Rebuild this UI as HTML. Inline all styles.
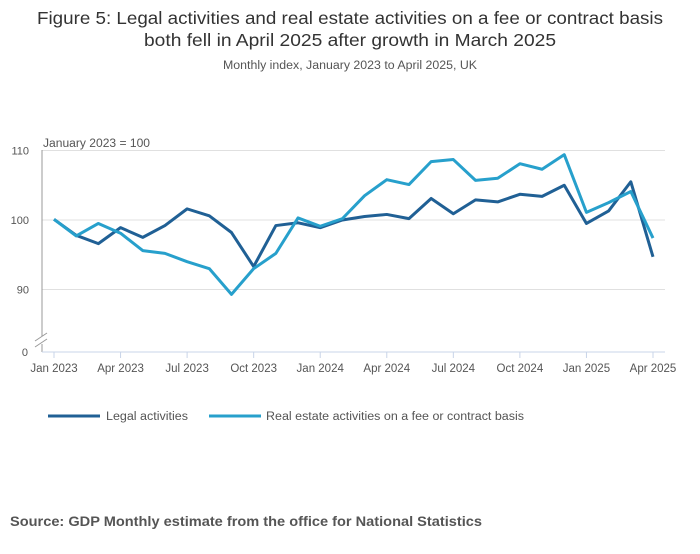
<!DOCTYPE html>
<html><head><meta charset="utf-8"><style>
body{margin:0;background:#fff;font-family:"Liberation Sans",sans-serif;}
svg text{font-family:"Liberation Sans",sans-serif;}
</style></head><body>
<svg width="700" height="549" xmlns="http://www.w3.org/2000/svg">
<text x="350" y="24" text-anchor="middle" font-size="17.5" fill="#333" textLength="626" lengthAdjust="spacingAndGlyphs">Figure 5: Legal activities and real estate activities on a fee or contract basis</text>
<text x="350" y="46" text-anchor="middle" font-size="17.5" fill="#333" textLength="412" lengthAdjust="spacingAndGlyphs">both fell in April 2025 after growth in March 2025</text>
<text x="350" y="69" text-anchor="middle" font-size="11.5" fill="#555" textLength="254" lengthAdjust="spacingAndGlyphs">Monthly index, January 2023 to April 2025, UK</text>
<text x="43" y="147" font-size="11.5" fill="#555" textLength="107" lengthAdjust="spacingAndGlyphs">January 2023 = 100</text>
<g id="grid"></g>
<line x1="42" y1="150" x2="42" y2="352" stroke="#999" stroke-width="1"/>
<rect x="34" y="336" width="14" height="8" fill="#fff"/>
<line x1="35" y1="341" x2="47" y2="333" stroke="#999"/>
<line x1="35" y1="347" x2="47" y2="339" stroke="#999"/>
<line x1="42" y1="352" x2="665" y2="352" stroke="#c8d4e8" stroke-width="1"/>
<g id="xaxis"></g>
<g id="series"></g>
<line x1="48" y1="416" x2="100" y2="416" stroke="#206095" stroke-width="3"/>
<text x="106" y="420" font-size="11.5" fill="#555" textLength="82" lengthAdjust="spacingAndGlyphs">Legal activities</text>
<line x1="209" y1="416" x2="261" y2="416" stroke="#27a0cc" stroke-width="3"/>
<text x="266" y="420" font-size="11.5" fill="#555" textLength="258" lengthAdjust="spacingAndGlyphs">Real estate activities on a fee or contract basis</text>
<text x="10" y="526" font-size="13.5" font-weight="bold" fill="#555" textLength="472" lengthAdjust="spacingAndGlyphs">Source: GDP Monthly estimate from the office for National Statistics</text>
</svg>
<script>
const months=["Jan 2023","Feb 2023","Mar 2023","Apr 2023","May 2023","Jun 2023","Jul 2023","Aug 2023","Sep 2023","Oct 2023","Nov 2023","Dec 2023","Jan 2024","Feb 2024","Mar 2024","Apr 2024","May 2024","Jun 2024","Jul 2024","Aug 2024","Sep 2024","Oct 2024","Nov 2024","Dec 2024","Jan 2025","Feb 2025","Mar 2025","Apr 2025"];
const legal=[100.1,97.8,96.6,98.9,97.5,99.2,101.6,100.6,98.2,93.3,99.2,99.6,98.9,100,100.5,100.8,100.2,103.1,100.9,102.9,102.6,103.7,103.4,105.0,99.5,101.3,105.5,94.7];
const realEstate=[100.1,97.7,99.5,98.1,95.6,95.2,94.0,93.0,89.3,93.0,95.2,100.3,99.1,100.2,103.5,105.8,105.1,108.4,108.7,105.7,106.0,108.1,107.3,109.4,101.1,102.5,104.1,97.4];
const yTicks=[110,100,90];
const xTickIdx=[0,3,6,9,12,15,18,21,24,27];
const NS="http://www.w3.org/2000/svg";
function xs(i){return 54+i*(653-54)/27;}
function ys(v){return 220-(v-100)*6.95;}
const grid=document.getElementById('grid');
yTicks.forEach(t=>{
 const l=document.createElementNS(NS,'line');
 l.setAttribute('x1',42);l.setAttribute('x2',665);l.setAttribute('y1',ys(t));l.setAttribute('y2',ys(t));
 l.setAttribute('stroke','#e0e0e0');
 
 
 grid.appendChild(l);
 const tx=document.createElementNS(NS,'text');
 tx.setAttribute('x',29);tx.setAttribute('y',ys(t)+4);tx.setAttribute('text-anchor','end');
 tx.setAttribute('font-size','11');tx.setAttribute('fill','#555');tx.textContent=t;
 
 
 grid.appendChild(tx);
});
const z=document.createElementNS(NS,'text');
z.setAttribute('x',28);z.setAttribute('y',356);z.setAttribute('text-anchor','end');z.setAttribute('font-size','11');z.setAttribute('fill','#555');z.textContent='0';


grid.appendChild(z);
const xa=document.getElementById('xaxis');
xTickIdx.forEach(i=>{
 const l=document.createElementNS(NS,'line');
 l.setAttribute('x1',xs(i));l.setAttribute('x2',xs(i));l.setAttribute('y1',352);l.setAttribute('y2',358);l.setAttribute('stroke','#c8d4e8');
 
 
 xa.appendChild(l);
 const t=document.createElementNS(NS,'text');
 t.setAttribute('x',xs(i));t.setAttribute('y',372);t.setAttribute('text-anchor','middle');t.setAttribute('font-size','11.5');t.setAttribute('fill','#555');
 t.textContent=months[i];
 
 
 xa.appendChild(t);
});
const sg=document.getElementById('series');
[[legal,'#206095','line-legal'],[realEstate,'#27a0cc','line-real-estate']].forEach(([d,c,n])=>{
 const p=document.createElementNS(NS,'polyline');
 p.setAttribute('points',d.map((v,i)=>xs(i)+','+ys(v)).join(' '));
 p.setAttribute('fill','none');p.setAttribute('stroke',c);p.setAttribute('stroke-width','3');p.setAttribute('stroke-linejoin','round');
 
 
 sg.appendChild(p);
});
</script>
</body></html>
